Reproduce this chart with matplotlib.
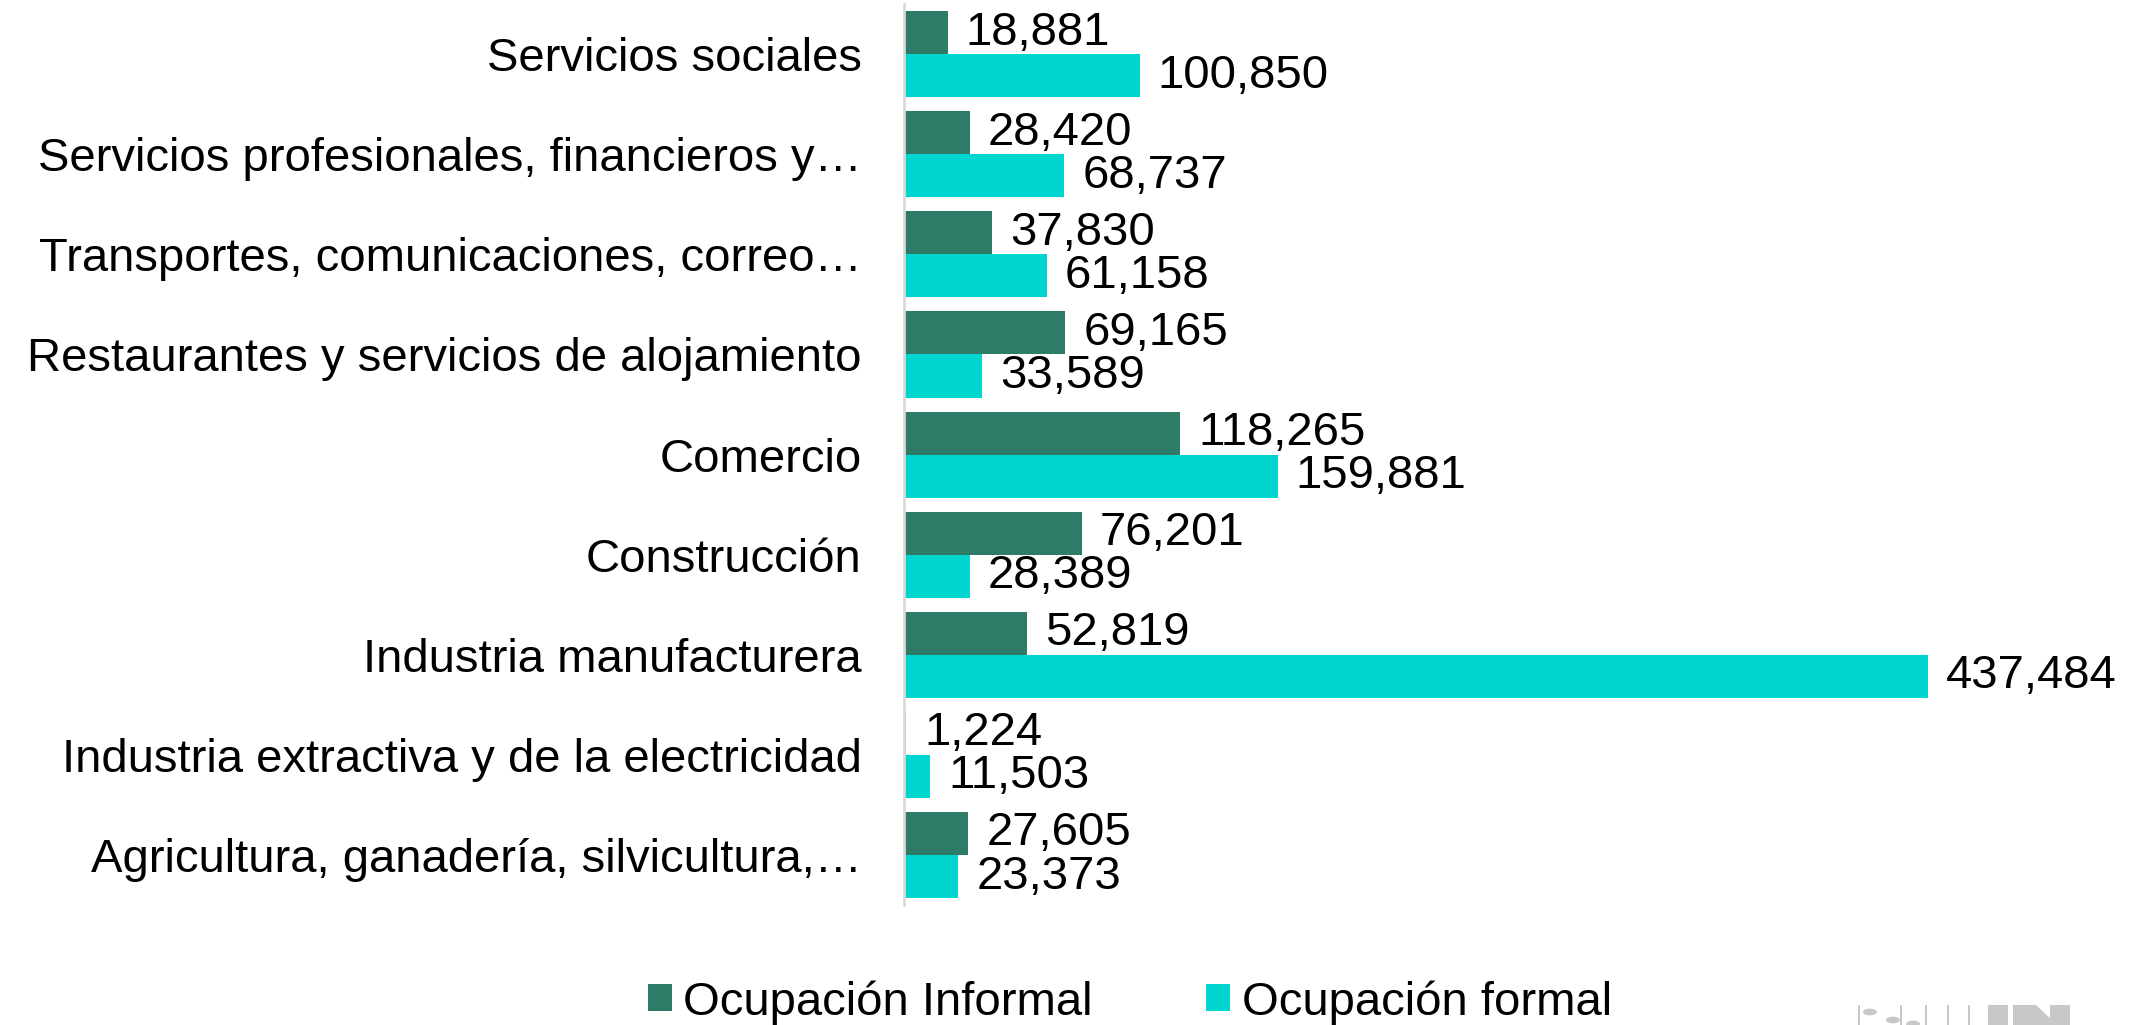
import numpy as np
import matplotlib.pyplot as plt
from matplotlib.patches import Rectangle, Circle, Polygon, Wedge

plt.rcParams["font.family"] = ["Liberation Sans", "DejaVu Sans"]

# Población ocupada por sector de actividad
sectores = [
    "Servicios sociales",
    "Servicios profesionales, financieros y…",
    "Transportes, comunicaciones, correo…",
    "Restaurantes y servicios de alojamiento",
    "Comercio",
    "Construcción",
    "Industria manufacturera",
    "Industria extractiva y de la electricidad",
    "Agricultura, ganadería, silvicultura,…",
]
informal = [18881, 28420, 37830, 69165, 118265, 76201, 52819, 1224, 27605]
formal = [100850, 68737, 61158, 33589, 159881, 28389, 437484, 11503, 23373]

color_informal = "#2e7b67"
color_formal = "#00d6cf"

W, H = 2136, 1025
fig = plt.figure(figsize=(W / 100, H / 100), dpi=100)
ax = fig.add_axes([0.423, 0.117, 0.548, 0.879])

y = np.arange(len(sectores))
h = 0.43
b1 = ax.barh(y - h / 2, informal, height=h, color=color_informal, label="Ocupación Informal")
b2 = ax.barh(y + h / 2, formal, height=h, color=color_formal, label="Ocupación formal")

for bars, vals in ((b1, informal), (b2, formal)):
    for bar, v in zip(bars, vals):
        ax.annotate(f"{v:,}", (v, bar.get_y() + bar.get_height() / 2),
                    xytext=(13, 0), textcoords="offset points",
                    va="center", ha="left", fontsize=34)

ax.set_xlim(0, 500000)
ax.set_ylim(len(sectores) - 0.5, -0.5)
ax.set_yticks(y)
ax.set_yticklabels(sectores, fontsize=34)
ax.tick_params(axis="y", length=0, pad=30)
ax.set_xticks([])
for s in ("top", "right", "bottom"):
    ax.spines[s].set_visible(False)
ax.spines["left"].set_color("#d9d9d9")
ax.spines["left"].set_linewidth(2)

fig.legend(handles=[b1, b2], loc="center", bbox_to_anchor=(0.529, 0.022), ncol=2,
           frameon=False, fontsize=34, handlelength=0.5, handleheight=0.5,
           handletextpad=0.25, columnspacing=2.4)

# logotipo en la esquina inferior derecha (solo asoma la parte superior)
gris = "#c8c8c8"
def px(x, yy):
    return (x / W, 1 - yy / H)

logo = []
for x in (1858, 1900, 1925, 1947, 1968):
    logo.append(Rectangle(px(x, H), 2 / W, 20 / H))
for x, yy in ((1870, 1012), (1893, 1020), (1913, 1024)):
    logo.append(Circle(px(x, yy), 7 / W))
logo.append(Rectangle(px(1988, H), 20 / W, 20 / H))
logo.append(Polygon([px(2013, H), px(2013, 1005), px(2036, 1005), px(2050, 1018),
                     px(2050, 1005), px(2070, 1005), px(2070, H)]))
logo.append(Wedge(px(2140, 1075), 62 / W, 95, 200, width=22 / W))
for p in logo:
    p.set_facecolor(gris)
    p.set_edgecolor("none")
    p.set_transform(fig.transFigure)
    fig.add_artist(p)

fig.savefig("out.png", dpi=100)
